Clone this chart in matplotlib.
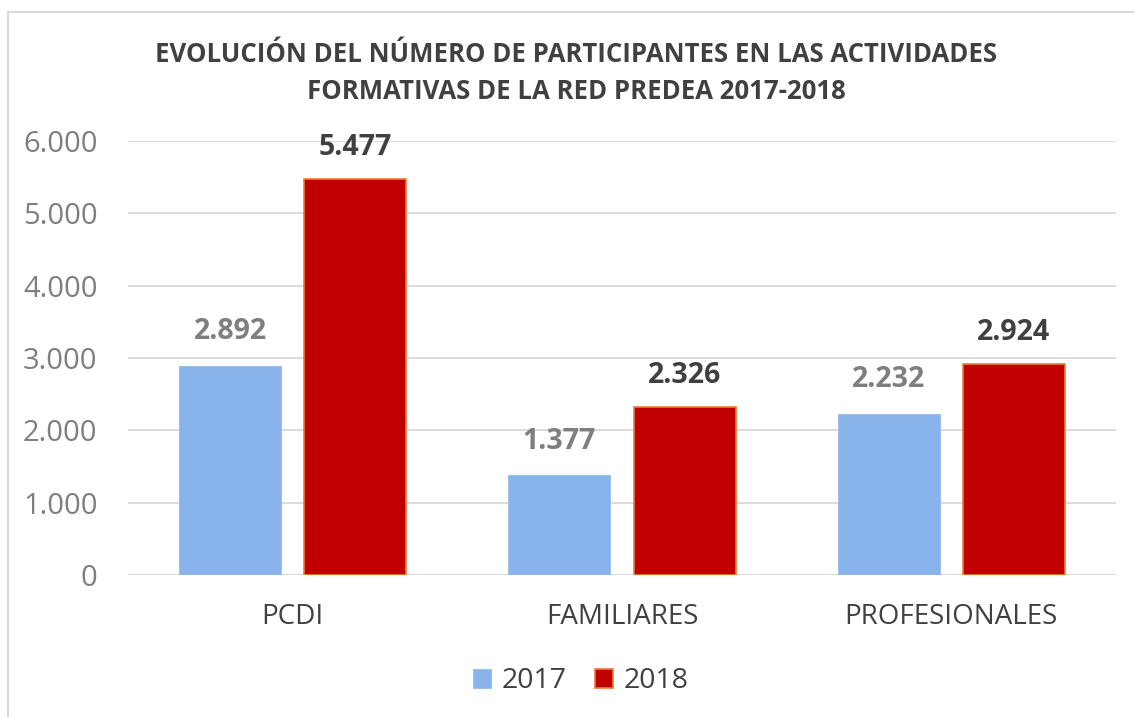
import numpy as np
import matplotlib.pyplot as plt
from matplotlib.ticker import FuncFormatter

categories = ["PCDI", "FAMILIARES", "PROFESIONALES"]
years = ["2017", "2018"]
values_2017 = [2892, 1377, 2232]
values_2018 = [5477, 2326, 2924]

plt.rcParams['font.family'] = ['Open Sans', 'DejaVu Sans']

fig = plt.figure(figsize=(11.34, 7.17), dpi=100)
ax = fig.add_axes([0.1129, 0.198, 0.8712, 0.6053])

x = np.arange(len(categories))
w = 0.31
gap = 0.07
off = (w + gap) / 2

b1 = ax.bar(x - off, values_2017, w, color='#88B3EB', edgecolor='#9DC0EE', linewidth=0.8,
            label=years[0], zorder=3)
b2 = ax.bar(x + off, values_2018, w, color='#C00000', edgecolor='#ED7D31', linewidth=1.2,
            label=years[1], zorder=3)

fmt = lambda v: f"{v:,.0f}".replace(",", ".")
for r, v in zip(b1, values_2017):
    ax.annotate(fmt(v), (r.get_x() + r.get_width() / 2, v), xytext=(0, 14),
                textcoords='offset points', ha='center', va='bottom',
                fontsize=20.5, fontweight='bold', color='#7F7F7F')
for r, v in zip(b2, values_2018):
    ax.annotate(fmt(v), (r.get_x() + r.get_width() / 2, v), xytext=(0, 12),
                textcoords='offset points', ha='center', va='bottom',
                fontsize=20.5, fontweight='bold', color='#404040')

ax.set_xlim(-0.5, 2.5)
ax.set_ylim(0, 6000)
ax.set_yticks(np.arange(0, 6001, 1000))
ax.yaxis.set_major_formatter(FuncFormatter(lambda v, p: fmt(v)))
ax.set_xticks(x)
ax.set_xticklabels(categories)
ax.tick_params(axis='y', length=0, pad=22, labelsize=21, labelcolor='#7F7F7F')
ax.tick_params(axis='x', length=0, pad=20, labelsize=20, labelcolor='#404040')
ax.grid(axis='y', color='#D9D9D9', linewidth=1.3, zorder=0)
for s in ax.spines.values():
    s.set_visible(False)

fig.text(0.508, 0.898, "EVOLUCIÓN DEL NÚMERO DE PARTICIPANTES EN LAS ACTIVIDADES\nFORMATIVAS DE LA RED PREDEA 2017-2018",
         ha='center', va='center', fontsize=18.5, fontweight='bold', color='#404040', linespacing=1.45)

leg = fig.legend(loc='center', bbox_to_anchor=(0.512, 0.05), ncol=2, frameon=False,
                 fontsize=20.5, handlelength=0.65, handleheight=0.65, handletextpad=0.35,
                 columnspacing=1.0, labelcolor='#404040')

# chart border (top and left visible)
fig.add_artist(plt.Line2D([0.007, 1.0], [0.983, 0.983], color='#D9D9D9', linewidth=1.5))
fig.add_artist(plt.Line2D([0.007, 0.007], [0.0, 0.983], color='#D9D9D9', linewidth=1.5))

fig.savefig('out.png', dpi=100)
